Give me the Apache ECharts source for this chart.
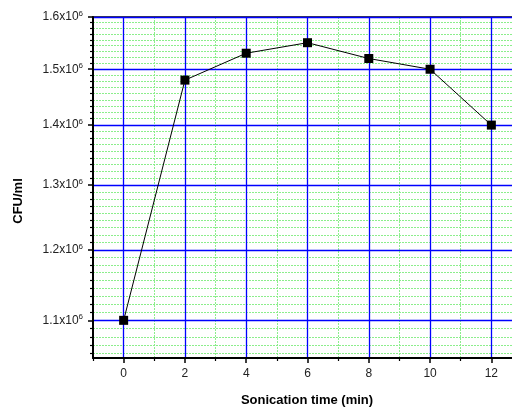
<!DOCTYPE html>
<html>
<head>
<meta charset="utf-8">
<script src="https://cdn.jsdelivr.net/npm/echarts@6/dist/echarts.min.js"></script>
<style>
html,body{margin:0;padding:0;overflow:hidden;background:#fff;width:512px;height:408px;}
#c{width:530px;height:408px;}
</style>
</head>
<body>
<div id="c"></div>
<script>
// Data
const times = [0, 2, 4, 6, 8, 10, 12];
const cfu = [1.10e6, 1.48e6, 1.53e6, 1.55e6, 1.52e6, 1.50e6, 1.40e6];
const xTicks = [0, 2, 4, 6, 8, 10, 12];
const yTicks = [1.1e6, 1.2e6, 1.3e6, 1.4e6, 1.5e6, 1.6e6];
const yMin = 1.05e6, yMax = 1.6e6;
const xMin = -1, xMax = 13;

// minor y ticks: 8 between each major (from picture)
const yMinorTicks = [];
for (let m = 0.8; m < 1.6; m += 0.1) {
  for (let k = 1; k <= 8; k++) {
    const v = Math.round((m + k * 0.1 / 9) * 1e6 * 1000) / 1000;
    if (v > yMin && v < yMax) yMinorTicks.push(v);
  }
}

const font = 'Liberation Sans, Arial, sans-serif';
const green = '#8cee8c';
const chart = echarts.init(document.getElementById('c'), null, {renderer: 'canvas'});
const option = {
  animation: false,
  grid: {left: 93, top: 17, right: 8, bottom: 50, containLabel: false},
  xAxis: [{
    type: 'value', min: xMin, max: xMax, position: 'bottom',
    axisLine: {show: true, onZero: false, lineStyle: {color: '#000', width: 2}},
    axisTick: {show: true, customValues: xTicks, length: 5, inside: false, lineStyle: {color: '#000', width: 1.5}},
    axisLabel: {customValues: xTicks, color: '#222', fontSize: 12, fontFamily: font, margin: 10},
    splitLine: {show: true, lineStyle: {color: '#0000ff', width: 1.3}},
    z: 3
  }, {
    // minor x grid: odd values, counted from min = -1
    type: 'value', min: xMin, max: xMax, interval: 2, position: 'bottom',
    axisLine: {show: false, onZero: false},
    axisTick: {show: true, length: 3, lineStyle: {color: '#000', width: 1.2}},
    axisLabel: {show: false},
    splitLine: {show: true, lineStyle: {color: green, width: 1, type: [2, 1]}},
    z: 1
  }, {
    type: 'value', min: xMin, max: xMax, position: 'top',
    axisLine: {show: true, onZero: false, lineStyle: {color: '#000', width: 1.5}},
    axisTick: {show: false}, axisLabel: {show: false}, splitLine: {show: false}
  }],
  yAxis: [{
    type: 'log', logBase: 10, min: yMin, max: yMax, position: 'left',
    axisLine: {show: true, onZero: false, lineStyle: {color: '#000', width: 2}},
    axisTick: {show: true, customValues: yTicks, length: 5, lineStyle: {color: '#000', width: 1.5}},
    axisLabel: {
      customValues: yTicks, margin: 10, color: '#222', fontFamily: font,
      formatter: function (v) {
        return '{a|' + (v / 1e6).toFixed(1) + 'x10}{s|6}';
      },
      rich: {
        a: {fontSize: 12, fontFamily: font, color: '#222'},
        s: {fontSize: 8, fontFamily: font, color: '#222', padding: [0, 0, 7, 0]}
      }
    },
    splitLine: {show: true, lineStyle: {color: '#0000ff', width: 1.3}},
    z: 3
  }, {
    type: 'log', logBase: 10, min: yMin, max: yMax, position: 'left',
    axisLine: {show: false, onZero: false},
    axisTick: {show: true, customValues: yMinorTicks, length: 3, lineStyle: {color: '#000', width: 1.2}},
    axisLabel: {show: false},
    splitLine: {show: true, lineStyle: {color: green, width: 1, type: [2, 1]}},
    z: 1
  }],
  graphic: [{
    type: 'text', x: 18, y: 201, rotation: Math.PI / 2,
    style: {text: 'CFU/ml', font: 'bold 13px ' + font, fill: '#000', align: 'center', verticalAlign: 'middle'}
  }, {
    type: 'text', x: 307, y: 400,
    style: {text: 'Sonication time (min)', font: 'bold 13px ' + font, fill: '#000', align: 'center', verticalAlign: 'middle'}
  }],
  series: [{
    type: 'line', xAxisIndex: 0, yAxisIndex: 0,
    data: times.map((t, i) => [t, cfu[i]]),
    symbol: 'rect', symbolSize: 9,
    itemStyle: {color: '#000'},
    lineStyle: {color: '#000', width: 1},
    z: 5
  }]
};
chart.setOption(option);
</script>
</body>
</html>
